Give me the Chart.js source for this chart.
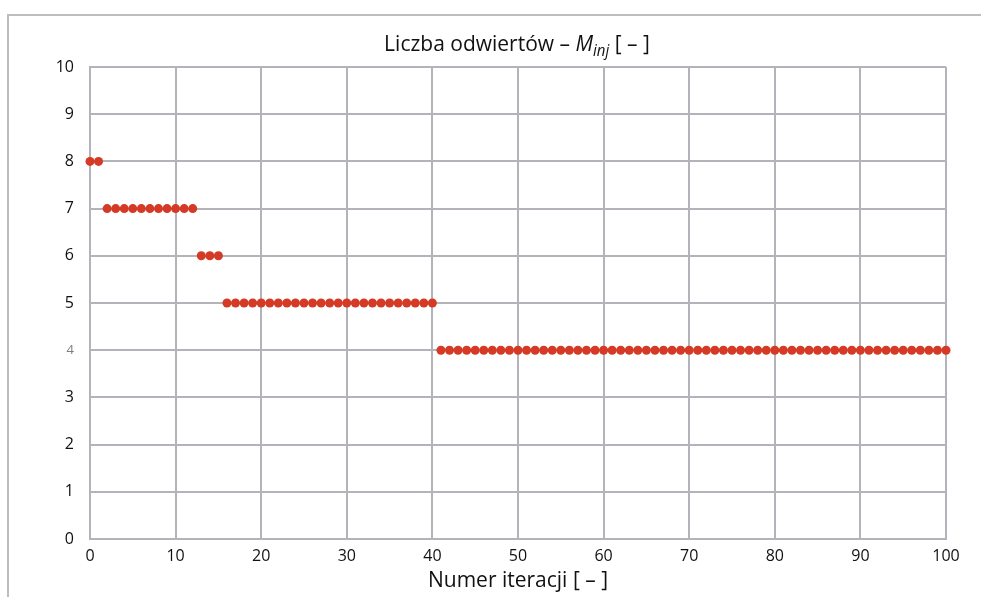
<!DOCTYPE html>
<html lang="pl">
<head>
<meta charset="utf-8">
<script src="https://cdn.jsdelivr.net/npm/chart.js@4/dist/chart.umd.min.js"></script>
<style>
  html, body { margin: 0; padding: 0; background: #fff; }
  #wrap { position: relative; width: 981px; height: 597px; overflow: hidden; }
  #frame { position: absolute; left: 7px; top: 14px; right: -4px; bottom: -4px;
           border-top: 2px solid #bdbdbd; border-left: 2px solid #bdbdbd; pointer-events: none; }
  canvas { position: absolute; left: 0; top: 0; }
</style>
</head>
<body>
<div id="wrap">
  <canvas id="c" width="981" height="597"></canvas>
  <div id="frame"></div>
</div>
<script>
// Number of injection wells found at each optimisation iteration
const minjValues = [
  8, 8,
  7, 7, 7, 7, 7, 7, 7, 7, 7, 7, 7,
  6, 6, 6,
  5, 5, 5, 5, 5, 5, 5, 5, 5, 5, 5, 5, 5, 5, 5, 5, 5, 5, 5, 5, 5, 5, 5, 5, 5,
  4, 4, 4, 4, 4, 4, 4, 4, 4, 4, 4, 4, 4, 4, 4, 4, 4, 4, 4, 4,
  4, 4, 4, 4, 4, 4, 4, 4, 4, 4, 4, 4, 4, 4, 4, 4, 4, 4, 4, 4,
  4, 4, 4, 4, 4, 4, 4, 4, 4, 4, 4, 4, 4, 4, 4, 4, 4, 4, 4, 4
];
const xTicks = [0, 10, 20, 30, 40, 50, 60, 70, 80, 90, 100];
const yTicks = [0, 1, 2, 3, 4, 5, 6, 7, 8, 9, 10];

const titleMain = 'Liczba odwiertów – ';
const titleVar = 'M';
const titleSub = 'inj';
const titleTail = ' [ – ]';
const xAxisTitle = 'Numer iteracji [ – ]';

const points = minjValues.map((v, i) => ({ x: i, y: v }));

const gridColor = '#b3b3b9';
const tickFont = "'Open Sans', 'DejaVu Sans', sans-serif";
const titleFont = "'Open Sans', 'DejaVu Sans', sans-serif";

// Title with italic variable and subscript, drawn centred over the plot
const titlePlugin = {
  id: 'richTitle',
  afterDraw(chart) {
    const ctx = chart.ctx;
    const fMain = `21px ${titleFont}`;
    const fItal = `italic 21px ${titleFont}`;
    const fSub = `italic 15px ${titleFont}`;
    ctx.save();
    ctx.fillStyle = '#111';
    ctx.textBaseline = 'alphabetic';
    const parts = [
      [titleMain, fMain, 0],
      [titleVar, fItal, 0],
      [titleSub, fSub, 5],
      [titleTail, fMain, 0]
    ];
    let total = 0;
    parts.forEach(p => { ctx.font = p[1]; total += ctx.measureText(p[0]).width; });
    // squeeze slightly to the narrower title face
    const target = 273;
    const sx = Math.min(1, target / total);
    ctx.translate(517 - (total * sx) / 2, 51);
    ctx.scale(sx, 1.05);
    let x = 0;
    parts.forEach(p => {
      ctx.font = p[1];
      ctx.fillText(p[0], x, p[2]);
      x += ctx.measureText(p[0]).width;
    });
    ctx.restore();
  }
};

new Chart(document.getElementById('c'), {
  type: 'scatter',
  data: {
    datasets: [{
      data: points,
      backgroundColor: '#d43a25',
      borderColor: '#d43a25',
      borderWidth: 0,
      pointRadius: 4.5,
      pointHoverRadius: 4.5,
      clip: false
    }]
  },
  plugins: [titlePlugin],
  options: {
    responsive: false,
    animation: false,
    events: [],
    layout: { padding: { top: 67, right: 35, left: 0, bottom: 0 } },
    plugins: { legend: { display: false }, tooltip: { enabled: false }, title: { display: false } },
    scales: {
      x: {
        type: 'linear',
        min: 0, max: 100,
        afterBuildTicks(scale) { scale.ticks = xTicks.map(v => ({ value: v })); },
        afterFit(scale) { scale.height = 58; },
        grid: { color: gridColor, lineWidth: 2, drawTicks: false },
        border: { color: gridColor, width: 2 },
        ticks: { color: '#111', font: { family: tickFont, size: 16 }, padding: 8, maxRotation: 0 },
        title: { display: true, text: xAxisTitle, color: '#111',
                 font: { family: tickFont, size: 21 }, padding: { top: 0, bottom: 3 } }
      },
      y: {
        type: 'linear',
        min: 0, max: 10,
        afterBuildTicks(scale) { scale.ticks = yTicks.map(v => ({ value: v })); },
        afterFit(scale) { scale.width = 90; },
        grid: { color: gridColor, lineWidth: 2, drawTicks: false },
        border: { color: gridColor, width: 2 },
        ticks: {
          padding: 16,
          color: ctx => ctx.tick && ctx.tick.value === 4 ? '#7d7d7d' : '#111',
          font: ctx => ({ family: tickFont, size: ctx.tick && ctx.tick.value === 4 ? 13 : 16 })
        }
      }
    }
  }
});
</script>
</body>
</html>
